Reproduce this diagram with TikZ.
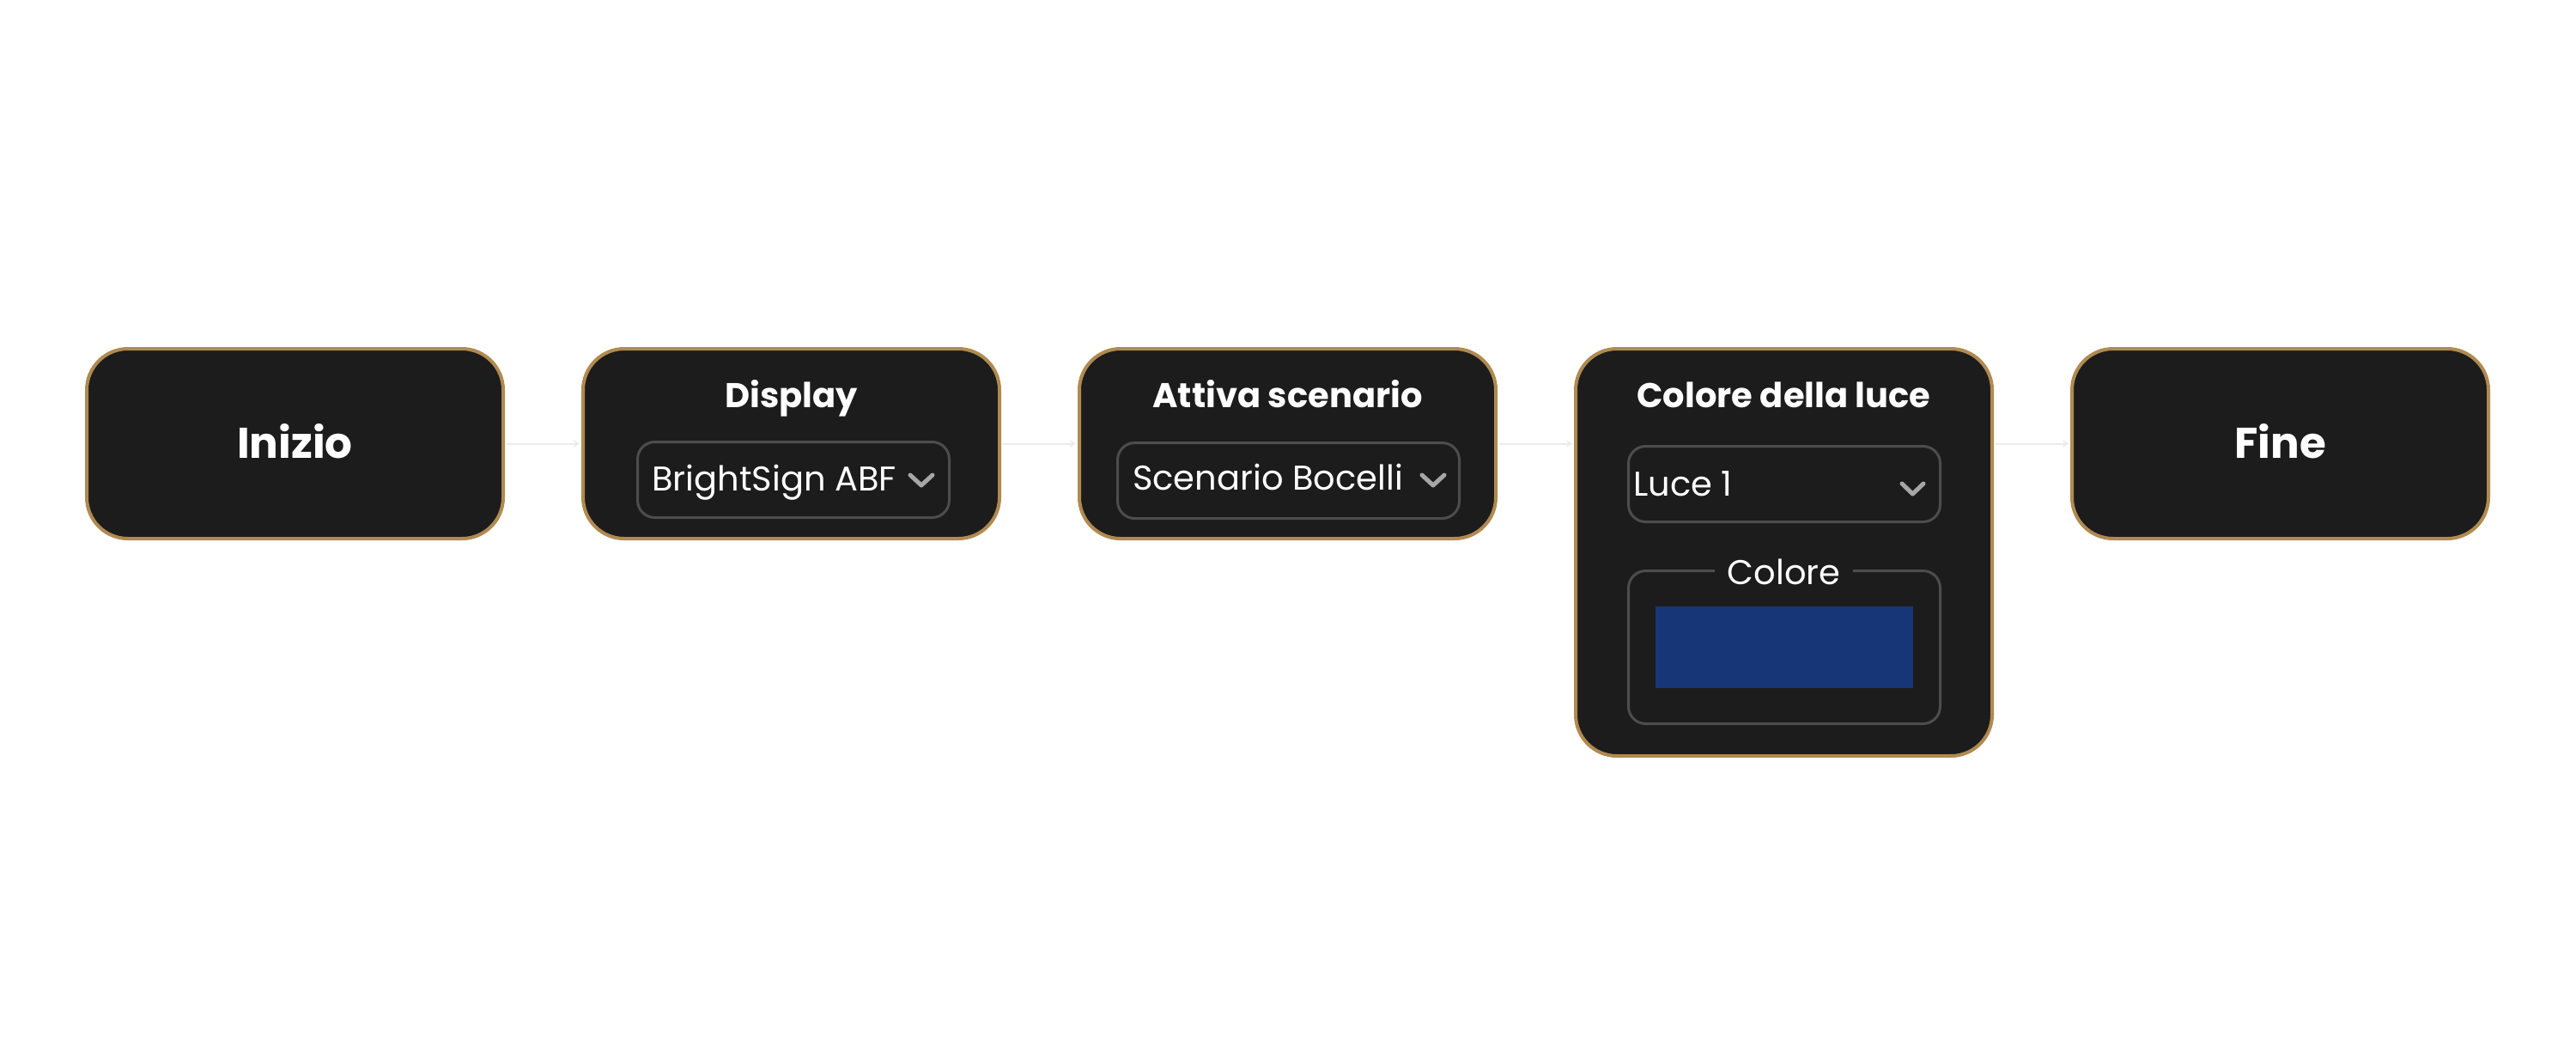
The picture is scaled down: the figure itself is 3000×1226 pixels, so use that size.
\documentclass[tikz,border=0pt]{standalone}
\usepackage{fontspec}
\setmainfont{Poppins}
\usetikzlibrary{arrows.meta,calc}
\definecolor{cardbg}{HTML}{1C1C1C}
\definecolor{gold}{HTML}{B08A50}
\definecolor{fieldline}{HTML}{4D4D4D}
\definecolor{chev}{HTML}{A6A6A6}
\definecolor{swatch}{HTML}{163677}
\definecolor{connc}{HTML}{EBEBEB}
\begin{document}
\begin{tikzpicture}[x=1pt,y=-1pt,
  card/.style={draw=gold,line width=4pt,fill=cardbg,rounded corners=48pt,
    minimum width=485pt,minimum height=221pt,anchor=north west,inner sep=0pt,outer sep=0pt},
  field/.style={draw=fieldline,line width=3pt,rounded corners=20pt,
    minimum height=88pt,anchor=north west,inner sep=0pt,outer sep=0pt},
  bigtitle/.style={text=white,font=\fontsize{50}{60}\selectfont\bfseries,anchor=base,inner sep=0pt},
  cardtitle/.style={text=white,font=\fontsize{40}{48}\selectfont\bfseries,anchor=base,inner sep=0pt},
  fieldtext/.style={text=white,font=\fontsize{40}{48}\selectfont,anchor=base west,inner sep=0pt},
  chevron/.style={draw=chev,line width=5pt,line cap=round,line join=round},
  link/.style={draw=connc,line width=2pt,shorten <=4pt,shorten >=4pt,-{Stealth[length=7pt,width=9pt]}}
]
\useasboundingbox (0,0) rectangle (3000,1226);

% cards
\node[card] (inizio) at (101,406) {};
\node[card] (display) at (679,406) {};
\node[card] (attiva) at (1257,406) {};
\node[card,minimum height=474pt] (colore) at (1835,406) {};
\node[card] (fine) at (2413,406) {};

% Inizio / Fine
\node[bigtitle] (tinizio) at (343.5,533) {Inizio};
\node[bigtitle] (tfine) at (2655.5,533) {Fine};

% titles
\node[cardtitle] (tdisplay) at (921.5,474) {Display};
\node[cardtitle] (tattiva) at (1499.5,474) {Attiva scenario};
\node[cardtitle] (tcolore) at (2077.5,474) {Colore della luce};

% dropdowns
\node[field,minimum width=363pt] (dd1) at (742.5,514.5) {};
\node[fieldtext] (v1) at (759,571) {BrightSign ABF};
\draw[chevron] (1060,553) -- (1073,565) -- (1086,553);

\node[field,minimum width=398pt] (dd2) at (1301.5,515.5) {};
\node[fieldtext] (v2) at (1319,570) {Scenario Bocelli};
\draw[chevron] (1656,553) -- (1669,565) -- (1682,553);

\node[field,minimum width=363pt] (dd3) at (1896.5,519.5) {};
\node[fieldtext] (v3) at (1902,577) {Luce 1};
\draw[chevron] (2215,563) -- (2227.5,575) -- (2240,563);

% colour fieldset
\node[field,minimum width=363pt,minimum height=178pt] (fs) at (1896.5,664.5) {};
\node[fill=cardbg,text=white,font=\fontsize{40}{48}\selectfont,inner xsep=15pt,inner ysep=2pt,anchor=base] (lcolore) at (2077.5,680) {Colore};
\node[fill=swatch,minimum width=300pt,minimum height=95pt,anchor=north west,inner sep=0pt] (sw) at (1928,706) {};

% connectors
\draw[link] (inizio.east) -- (display.west);
\draw[link] (display.east) -- (attiva.west);
\draw[link] (attiva.east) -- (colore.west |- attiva.east);
\draw[link] (colore.east |- fine.west) -- (fine.west);
\end{tikzpicture}
\end{document}
